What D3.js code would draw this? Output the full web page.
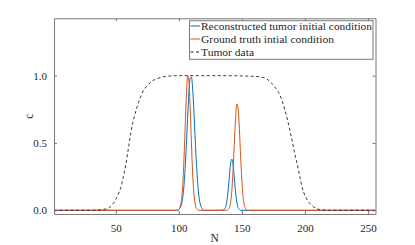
<!DOCTYPE html>
<html><head><meta charset="utf-8">
<script src="https://cdn.jsdelivr.net/npm/d3@7"></script>
<style>body{margin:0;background:#fff}svg{display:block}</style>
</head><body>
<script>
// Tumor data (dashed)
const tumorN = [1,20,30,35,40,44,48,50,52,54,56,58,60,62,64,66,68,70,72,75,78,82,86,90,100,130,150,160,165,169,173,177,180,182,184,186,188,190,192,194,196,198,200,202,204,207,211,215,220,256];
const tumorC = [0,0,0,0.002,0.006,0.015,0.05,0.08,0.12,0.17,0.25,0.34,0.46,0.58,0.67,0.74,0.8,0.85,0.89,0.925,0.955,0.975,0.988,0.995,1,1,0.998,0.995,0.99,0.98,0.95,0.905,0.86,0.81,0.75,0.68,0.6,0.51,0.42,0.34,0.25,0.165,0.11,0.075,0.05,0.025,0.007,0.002,0,0];
// Reconstructed tumor initial condition (blue)
const reconN = [1,99,100,101,102,103,104,105,106,107,108,109,110,111,112,113,114,115,116,117,118,119,120,134,135,136,137,138,139,140,141,142,143,144,145,146,147,148,149,256];
const reconC = [0,0,0.006,0.017,0.04,0.089,0.175,0.31,0.49,0.69,0.87,0.98,0.99,0.9,0.73,0.53,0.34,0.2,0.1,0.048,0.02,0.007,0,0,0.002,0.006,0.022,0.062,0.137,0.24,0.34,0.38,0.34,0.24,0.137,0.062,0.022,0.006,0,0];
// Ground truth initial condition (orange)
const truthN = [1,99,100,101,102,103,104,105,106,107,108,109,110,111,112,113,114,115,116,138,139,140,141,142,143,144,145,146,147,148,149,150,151,152,153,154,155,256];
const truthC = [0,0,0.006,0.024,0.07,0.17,0.36,0.61,0.85,1.0,0.955,0.76,0.5,0.27,0.12,0.046,0.014,0.004,0,0,0.005,0.019,0.056,0.14,0.29,0.49,0.68,0.79,0.76,0.61,0.4,0.22,0.1,0.037,0.012,0.003,0,0];
const xTicks = [50,100,150,200,250];
const yTicks = [0,0.5,1];
const legendLabels = ["Reconstructed tumor initial condition","Ground truth intial condition","Tumor data"];

const W=415,H=245;
const L=54,R=375.5,T=18.3,B=214;
const svg=d3.select("body").append("svg").attr("width",W).attr("height",H);
const x=d3.scaleLinear().domain([1,256]).range([L,R]);
const y=d3.scaleLinear().domain([-0.0275,1.426]).range([B,T]);
const font="'Liberation Serif','Times New Roman',serif";
const axCol="#7a7a7a", txtCol="#262626";

const line=(xs,ys)=>d3.line().x((d,i)=>x(xs[i])).y((d,i)=>y(ys[i])).curve(d3.curveMonotoneX)(xs);
const g=svg.append("g");
g.append("path").attr("d",line(reconN,reconC)).attr("fill","none").attr("stroke","#0072BD").attr("stroke-width",1);
g.append("path").attr("d",line(truthN,truthC)).attr("fill","none").attr("stroke","#D95319").attr("stroke-width",1);
g.append("path").attr("d",line(tumorN,tumorC)).attr("fill","none").attr("stroke","#222").attr("stroke-width",0.9).attr("stroke-dasharray","3,2.5");

// axes with inward ticks
const xb=svg.append("g").attr("transform",`translate(0,${B})`).call(d3.axisBottom(x).tickValues(xTicks).tickSizeInner(-3).tickSizeOuter(0).tickPadding(10));
const xt=svg.append("g").attr("transform",`translate(0,${T})`).call(d3.axisTop(x).tickValues(xTicks).tickSizeInner(-3).tickSizeOuter(0).tickFormat(""));
const yl=svg.append("g").attr("transform",`translate(${L},0)`).call(d3.axisLeft(y).tickValues(yTicks).tickSizeInner(-3).tickSizeOuter(0).tickPadding(7).tickFormat(d3.format(".1f")));
const yr=svg.append("g").attr("transform",`translate(${R},0)`).call(d3.axisRight(y).tickValues(yTicks).tickSizeInner(-3).tickSizeOuter(0).tickFormat(""));
[xb,xt,yl,yr].forEach(a=>{
  a.select(".domain").attr("stroke",axCol);
  a.selectAll(".tick line").attr("stroke",axCol);
  a.selectAll("text").attr("font-family",font).attr("font-size","11px").attr("fill",txtCol);
});

svg.append("text").attr("x",(L+R)/2).attr("y",242).attr("text-anchor","middle").attr("font-family",font).attr("font-size","11.5px").attr("fill",txtCol).text("N");
svg.append("text").attr("transform",`translate(33,${(T+B)/2}) rotate(-90)`).attr("text-anchor","middle").attr("font-family",font).attr("font-size","11.5px").attr("fill",txtCol).text("c");

// legend
const lg=svg.append("g");
lg.append("rect").attr("x",189.5).attr("y",20.7).attr("width",183.5).attr("height",38.6).attr("fill","#fff").attr("stroke",axCol).attr("stroke-width",1);
const colors=["#0072BD","#D95319","#222"];
const rowsY=[26,39,52];
const widths=[171,133,53];
legendLabels.forEach((t,i)=>{
  const ln=lg.append("line").attr("x1",190.5).attr("x2",200).attr("y1",rowsY[i]).attr("y2",rowsY[i]).attr("stroke",colors[i]).attr("stroke-width",1);
  if(i===2) ln.attr("stroke-dasharray","3,2.5");
  lg.append("text").attr("x",201).attr("y",rowsY[i]).attr("dy","0.35em").attr("font-family",font).attr("font-size","10.5px").attr("fill",txtCol)
    .attr("textLength",widths[i]).attr("lengthAdjust","spacingAndGlyphs").text(t);
});
</script>
</body></html>
